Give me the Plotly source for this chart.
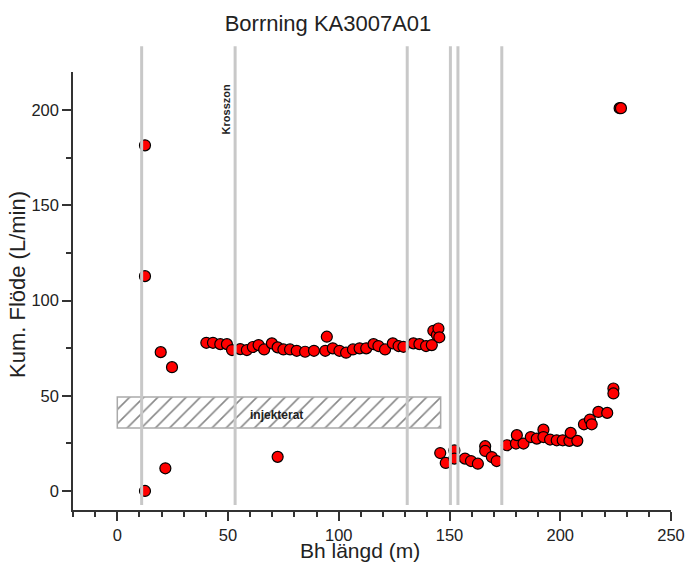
import plotly.graph_objects as go

# ---- data ----
bh_length = [12.5, 12.5, 12.5, 19.6, 21.7, 24.7,
             40.2, 43.2, 46.5, 49.5, 51.8, 55.5, 58.5, 61.2, 63.8, 66.3, 69.8, 72.4, 72.4,
             75.0, 78.0, 81.0, 84.8, 88.8, 93.9, 94.6, 97.3, 100.3, 103.3, 106.4, 109.4,
             112.4, 115.7, 117.9, 120.9, 124.4, 127.0, 129.2, 133.7, 136.4, 139.4, 142.0,
             142.7, 144.3, 145.0, 145.4,
             145.8, 148.3, 152.2, 152.2, 157.0, 159.7, 162.8, 166.1, 166.1, 169.1, 171.3,
             175.9, 180.0, 180.4, 183.4, 186.7, 189.4, 192.4, 192.4, 195.4, 198.4, 201.1,
             204.1, 204.7, 207.7, 210.7, 213.4, 214.2, 217.2, 221.2, 224.0, 224.0,
             226.8, 227.4]
flow = [181.5, 112.8, 0.0, 72.9, 11.9, 65.0,
        77.8, 77.8, 77.1, 77.1, 74.0, 74.5, 74.0, 75.6, 76.6, 74.3, 77.5, 17.9, 75.4,
        74.3, 74.3, 73.6, 73.1, 73.6, 73.6, 81.0, 74.9, 73.6, 72.6, 74.3, 74.9,
        74.9, 77.1, 76.1, 74.3, 77.5, 76.1, 75.7, 77.5, 77.1, 76.1, 76.6,
        84.1, 81.9, 85.3, 80.7,
        19.9, 14.7, 21.3, 17.0, 17.0, 15.7, 14.3, 23.5, 21.0, 17.8, 15.7,
        24.0, 24.9, 29.3, 24.9, 28.3, 27.5, 32.2, 28.3, 27.0, 26.6, 26.6,
        26.3, 30.5, 26.3, 35.0, 37.5, 35.0, 41.5, 41.0, 53.8, 51.2,
        201.0, 201.0]

line_positions = [11.0, 53.2, 130.9, 150.4, 153.8, 173.6]

inj_start, inj_end = 0.0, 146.0
inj_low, inj_high = 33.1, 49.4

x_title = "Bh längd (m)"
y_title = "Kum. Flöde (L/min)"

FONT = "Liberation Sans, Arial, sans-serif"
AX = "#333333"

fig = go.Figure()

fig.add_trace(go.Bar(
    x=[(inj_start + inj_end) / 2], y=[inj_high - inj_low], base=[inj_low],
    width=[inj_end - inj_start],
    marker=dict(color="white", line=dict(color="#aaaaaa", width=1.5),
                pattern=dict(shape="/", fgcolor="#111111", bgcolor="white",
                             size=10, solidity=0.16)),
    hoverinfo="skip", showlegend=False))

fig.add_trace(go.Scatter(
    x=bh_length, y=flow, mode="markers",
    marker=dict(color="#ff0000", size=11, line=dict(color="black", width=1.2)),
    showlegend=False))

for xp in line_positions:
    fig.add_shape(type="line", xref="x", yref="paper", x0=xp, x1=xp,
                  y0=0.0114, y1=1.059, line=dict(color="#c8c8c8", width=3),
                  layer="above")

fig.add_annotation(x=72, y=40, xref="x", yref="y", text="<b>injekterat</b>",
                   showarrow=False, font=dict(family=FONT, size=12, color="#222"))
fig.add_annotation(x=49.2, y=200.5, xref="x", yref="y", text="<b>Krosszon</b>",
                   textangle=-90, showarrow=False,
                   font=dict(family=FONT, size=11, color="#222"))

# axis titles
fig.add_annotation(x=(360 - 73) / 598, y=0, xref="paper", yref="paper",
                   yanchor="middle", xanchor="center", yshift=-40,
                   text=x_title, showarrow=False,
                   font=dict(family=FONT, size=21, color="#222"))
fig.add_annotation(x=(17 - 73) / 598, y=0.5, xref="paper", yref="paper",
                   yanchor="middle", xanchor="center", yshift=6,
                   text=y_title, textangle=-90, showarrow=False,
                   font=dict(family=FONT, size=22, color="#222"))

axis_common = dict(
    showline=True, linecolor=AX, linewidth=1.5, mirror=False,
    ticks="outside", ticklen=9, tickwidth=1.5, tickcolor=AX,
    showgrid=False, zeroline=False, automargin=False,
    tickfont=dict(family=FONT, size=16.5, color="#222"),
)

fig.update_layout(
    width=686, height=563,
    margin=dict(l=73, r=15, t=72, b=53),
    plot_bgcolor="white", paper_bgcolor="white",
    showlegend=False,
    font=dict(family=FONT, color="#222"),
    title=dict(text="Borrning KA3007A01", x=328 / 686, xanchor="center",
               xref="container", yref="container", y=1 - 23 / 563, yanchor="middle",
               font=dict(family=FONT, size=22, color="#222")),
    xaxis=dict(range=[-20, 250], tick0=0, dtick=50,
               minor=dict(ticks="outside", ticklen=5, dtick=10, tick0=0,
                          tickcolor=AX, tickwidth=1.5),
               **axis_common),
    yaxis=dict(range=[-10, 220], tick0=0, dtick=50,
               minor=dict(ticks="outside", ticklen=5, dtick=25, tick0=0,
                          tickcolor=AX, tickwidth=1.5),
               **axis_common),
)

fig.write_html("out.html", config={"displayModeBar": False},
               post_script="document.body.style.margin='0';")
